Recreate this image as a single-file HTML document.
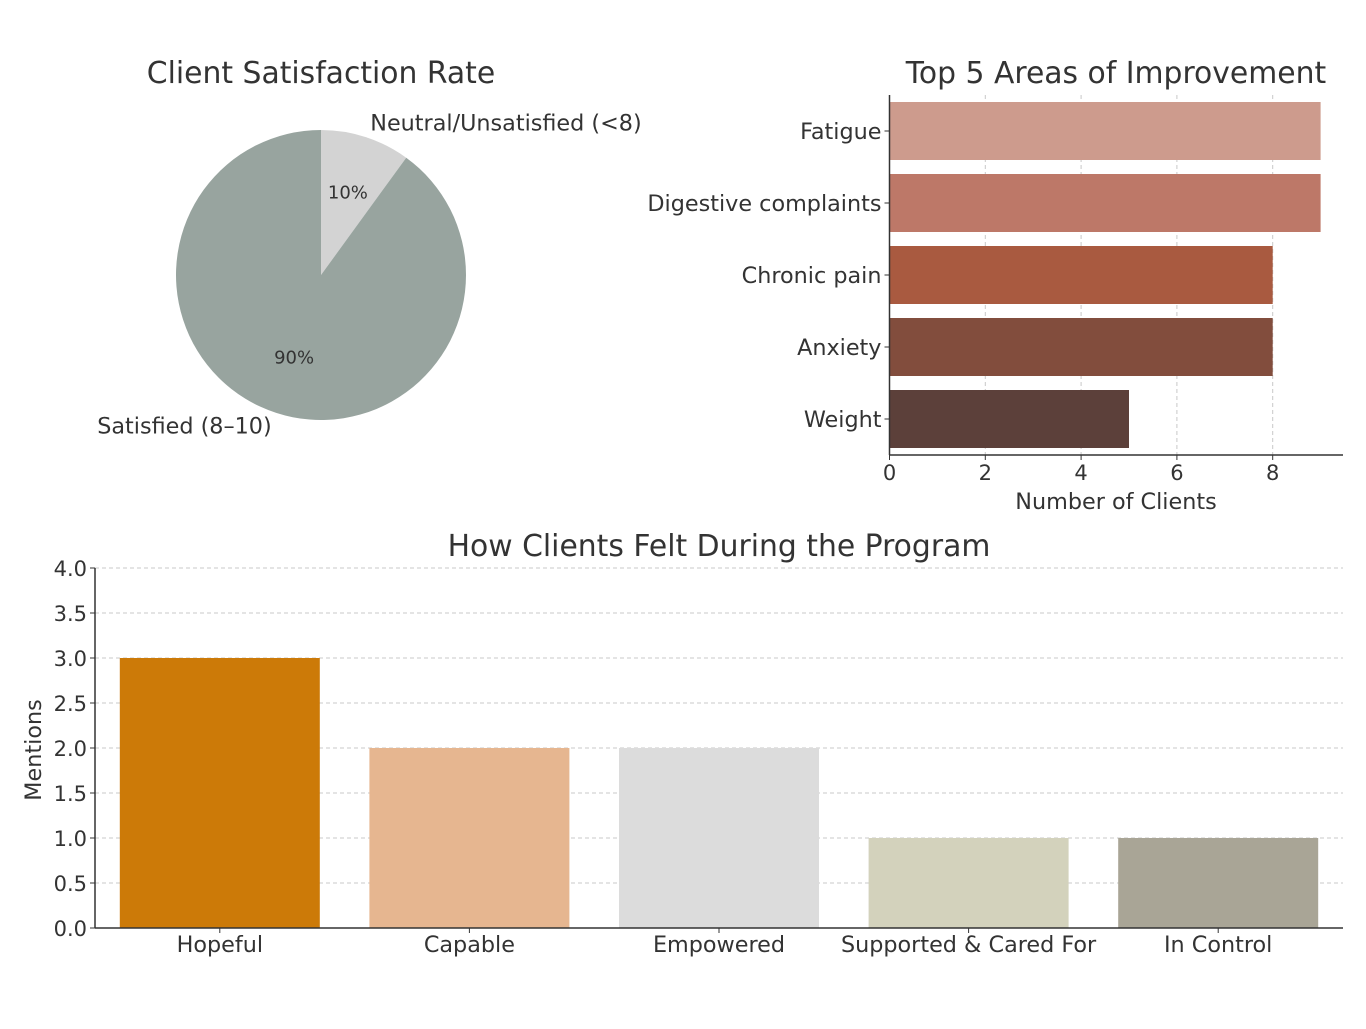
<!DOCTYPE html>
<html><head><meta charset="utf-8"><style>
body{margin:0;background:#fff;}
svg text{font-family:"DejaVu Sans","Liberation Sans",sans-serif;fill:#333;}
</style></head><body>
<svg width="1366" height="1024" viewBox="0 0 1366 1024" xmlns="http://www.w3.org/2000/svg">
<g id="pie"></g>
<g id="hbar"></g>
<g id="vbar"></g>
</svg>
<script>
const NS="http://www.w3.org/2000/svg";
function mk(parent,tag,attrs,text){const e=document.createElementNS(NS,tag);for(const k in attrs)e.setAttribute(k,attrs[k]);if(text!==undefined)e.textContent=text;parent.appendChild(e);return e;}

const pieLabels=["Neutral/Unsatisfied (<8)","Satisfied (8–10)"];
const pieValues=[10,90];
const pieColors=["#d3d3d3","#98a49f"];

const hCats=["Fatigue","Digestive complaints","Chronic pain","Anxiety","Weight"];
const hValues=[9,9,8,8,5];
const hColors=["#cd9b8d","#bd7868","#a95a40","#824d3d","#5c403a"];
const hTicks=[0,2,4,6,8];

const vCats=["Hopeful","Capable","Empowered","Supported & Cared For","In Control"];
const vValues=[3,2,2,1,1];
const vColors=["#cc7a08","#e6b690","#dcdcdc","#d3d2bc","#a9a596"];
const vTicks=[0,0.5,1,1.5,2,2.5,3,3.5,4];

// PIE
(function(){
const g=document.getElementById('pie');
const cx=321,cy=275,r=145;
let t=mk(g,'text',{x:321,y:83,'font-size':29.8,'text-anchor':'middle'},'Client Satisfaction Rate');

const total=pieValues.reduce((a,b)=>a+b,0);
let start=90;
pieValues.forEach((v,i)=>{
 const sweep=v/total*360, end=start-sweep;
 const a1=start*Math.PI/180,a2=end*Math.PI/180;
 const x1=cx+r*Math.cos(a1),y1=cy-r*Math.sin(a1),x2=cx+r*Math.cos(a2),y2=cy-r*Math.sin(a2);
 const p=mk(g,'path',{d:`M${cx},${cy} L${x1},${y1} A${r},${r} 0 ${sweep>180?1:0} 1 ${x2},${y2} Z`,fill:pieColors[i]});
 
 const mid=(start-sweep/2)*Math.PI/180;
 const pt=mk(g,'text',{x:cx+0.6*r*Math.cos(mid),y:cy-0.6*r*Math.sin(mid)+6,'font-size':18,'text-anchor':'middle'},Math.round(v/total*100)+'%');
 
 const lx=cx+1.1*r*Math.cos(mid),ly=cy-1.1*r*Math.sin(mid);
 const lt=mk(g,'text',{x:lx,y:ly+7,'font-size':22.3,'text-anchor':Math.cos(mid)>=0?'start':'end'},pieLabels[i]);
 
 start=end;
});
})();

// HBAR
(function(){
const g=document.getElementById('hbar');
const x0=889.5,ux=47.9,top=95,bottom=455,xEnd=1343;
const xs=v=>x0+v*ux;
let t=mk(g,'text',{x:1116,y:83,'font-size':29.8,'text-anchor':'middle'},'Top 5 Areas of Improvement');

hTicks.forEach(v=>{
 if(v>0){const l=mk(g,'line',{x1:xs(v),x2:xs(v),y1:top,y2:bottom,stroke:'#c8c8c8','stroke-dasharray':'4,3'});}
});
const band=(bottom-top)/hCats.length;
hCats.forEach((c,i)=>{
 const yc=top+band*(i+0.5);
 const r=mk(g,'rect',{x:x0,y:yc-29,width:xs(hValues[i])-x0,height:58,fill:hColors[i]});
 
 mk(g,'line',{x1:x0-5,x2:x0,y1:yc,y2:yc,stroke:'#333'});
 const lt=mk(g,'text',{x:x0-8,y:yc+8,'font-size':22.3,'text-anchor':'end'},c);
 
});
hTicks.forEach(v=>{
 mk(g,'line',{x1:xs(v),x2:xs(v),y1:bottom,y2:bottom+5,stroke:'#333'});
 const tt=mk(g,'text',{x:xs(v),y:480,'font-size':21,'text-anchor':'middle'},v);
 
});
mk(g,'line',{x1:x0,x2:x0,y1:top,y2:bottom,stroke:'#333','stroke-width':1.5});
mk(g,'line',{x1:x0,x2:xEnd,y1:bottom,y2:bottom,stroke:'#333','stroke-width':1.5});
const xt=mk(g,'text',{x:1116,y:509,'font-size':22.3,'text-anchor':'middle'},'Number of Clients');

})();

// VBAR
(function(){
const g=document.getElementById('vbar');
const x0=95,xEnd=1343,y0=928,uy=90;
const ys=v=>y0-v*uy;
let t=mk(g,'text',{x:719,y:556,'font-size':29.8,'text-anchor':'middle'},'How Clients Felt During the Program');

vTicks.forEach(v=>{
 if(v>0){const l=mk(g,'line',{x1:x0,x2:xEnd,y1:ys(v),y2:ys(v),stroke:'#c8c8c8','stroke-dasharray':'4,3'});}
 mk(g,'line',{x1:x0-5,x2:x0,y1:ys(v),y2:ys(v),stroke:'#333'});
 const tt=mk(g,'text',{x:x0-8,y:ys(v)+8,'font-size':21,'text-anchor':'end'},v.toFixed(1));
 
});
const band=(xEnd-x0)/vCats.length;
vCats.forEach((c,i)=>{
 const xc=x0+band*(i+0.5);
 const r=mk(g,'rect',{x:xc-100,y:ys(vValues[i]),width:200,height:y0-ys(vValues[i]),fill:vColors[i]});
 
 mk(g,'line',{x1:xc,x2:xc,y1:y0,y2:y0+5,stroke:'#333'});
 const lt=mk(g,'text',{x:xc,y:952,'font-size':22.3,'text-anchor':'middle'},c);
 
});
mk(g,'line',{x1:x0,x2:x0,y1:ys(4),y2:y0,stroke:'#333','stroke-width':1.5});
mk(g,'line',{x1:x0,x2:xEnd,y1:y0,y2:y0,stroke:'#333','stroke-width':1.5});
const yt=mk(g,'text',{x:41,y:750,'font-size':22.3,'text-anchor':'middle',transform:'rotate(-90 41 750)'},'Mentions');

})();
</script>
</body></html>
